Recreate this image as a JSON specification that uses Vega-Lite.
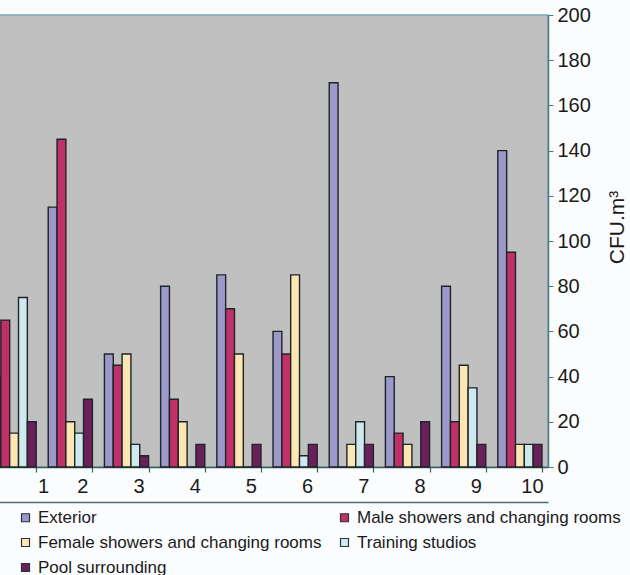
{
  "$schema": "https://vega.github.io/schema/vega-lite/v6.json",
  "width": 562,
  "height": 452,
  "autosize": {"type": "none"},
  "padding": {"left": -14, "top": 15, "right": 82, "bottom": 108},
  "background": "#fbfcfd",
  "config": {
    "font": "Liberation Sans",
    "view": {"fill": "#c0c0c0", "stroke": "#7fa9be", "strokeWidth": 1.5}
  },
  "data": {
    "values": [
      {"site": 1, "location": "Exterior", "value": 40},
      {"site": 1, "location": "Male showers and changing rooms", "value": 65},
      {"site": 1, "location": "Female showers and changing rooms", "value": 15},
      {"site": 1, "location": "Training studios", "value": 75},
      {"site": 1, "location": "Pool surrounding", "value": 20},
      {"site": 2, "location": "Exterior", "value": 115},
      {"site": 2, "location": "Male showers and changing rooms", "value": 145},
      {"site": 2, "location": "Female showers and changing rooms", "value": 20},
      {"site": 2, "location": "Training studios", "value": 15},
      {"site": 2, "location": "Pool surrounding", "value": 30},
      {"site": 3, "location": "Exterior", "value": 50},
      {"site": 3, "location": "Male showers and changing rooms", "value": 45},
      {"site": 3, "location": "Female showers and changing rooms", "value": 50},
      {"site": 3, "location": "Training studios", "value": 10},
      {"site": 3, "location": "Pool surrounding", "value": 5},
      {"site": 4, "location": "Exterior", "value": 80},
      {"site": 4, "location": "Male showers and changing rooms", "value": 30},
      {"site": 4, "location": "Female showers and changing rooms", "value": 20},
      {"site": 4, "location": "Training studios", "value": 0},
      {"site": 4, "location": "Pool surrounding", "value": 10},
      {"site": 5, "location": "Exterior", "value": 85},
      {"site": 5, "location": "Male showers and changing rooms", "value": 70},
      {"site": 5, "location": "Female showers and changing rooms", "value": 50},
      {"site": 5, "location": "Training studios", "value": 0},
      {"site": 5, "location": "Pool surrounding", "value": 10},
      {"site": 6, "location": "Exterior", "value": 60},
      {"site": 6, "location": "Male showers and changing rooms", "value": 50},
      {"site": 6, "location": "Female showers and changing rooms", "value": 85},
      {"site": 6, "location": "Training studios", "value": 5},
      {"site": 6, "location": "Pool surrounding", "value": 10},
      {"site": 7, "location": "Exterior", "value": 170},
      {"site": 7, "location": "Male showers and changing rooms", "value": 0},
      {"site": 7, "location": "Female showers and changing rooms", "value": 10},
      {"site": 7, "location": "Training studios", "value": 20},
      {"site": 7, "location": "Pool surrounding", "value": 10},
      {"site": 8, "location": "Exterior", "value": 40},
      {"site": 8, "location": "Male showers and changing rooms", "value": 15},
      {"site": 8, "location": "Female showers and changing rooms", "value": 10},
      {"site": 8, "location": "Training studios", "value": 0},
      {"site": 8, "location": "Pool surrounding", "value": 20},
      {"site": 9, "location": "Exterior", "value": 80},
      {"site": 9, "location": "Male showers and changing rooms", "value": 20},
      {"site": 9, "location": "Female showers and changing rooms", "value": 45},
      {"site": 9, "location": "Training studios", "value": 35},
      {"site": 9, "location": "Pool surrounding", "value": 10},
      {"site": 10, "location": "Exterior", "value": 140},
      {"site": 10, "location": "Male showers and changing rooms", "value": 95},
      {"site": 10, "location": "Female showers and changing rooms", "value": 10},
      {"site": 10, "location": "Training studios", "value": 10},
      {"site": 10, "location": "Pool surrounding", "value": 10}
    ]
  },
  "layer": [
    {
      "mark": {"type": "bar", "stroke": "#1b2626", "strokeWidth": 1.4},
      "encoding": {
        "x": {
          "field": "site",
          "type": "ordinal",
          "scale": {"paddingInner": 0.214, "paddingOuter": 0.107},
          "axis": {
            "orient": "bottom",
            "title": null,
            "labelAngle": 0,
            "tickBand": "extent",
            "tickSize": 5,
            "tickColor": "#3d5a5e",
            "tickWidth": 1.2,
            "domainColor": "#3d5a5e",
            "domainWidth": 1.5,
            "labelFontSize": 20,
            "labelColor": "#1a1a1a",
            "labelPadding": 4,
            "labelOffset": {"condition": {"test": "datum.value == 1", "value": 29}, "value": 12}
          }
        },
        "xOffset": {
          "field": "location",
          "type": "nominal",
          "scale": {
            "domain": ["Exterior", "Male showers and changing rooms", "Female showers and changing rooms", "Training studios", "Pool surrounding"],
            "paddingInner": 0,
            "paddingOuter": 0
          }
        },
        "y": {
          "field": "value",
          "type": "quantitative",
          "scale": {"domain": [0, 200], "nice": false},
          "axis": {
            "orient": "right",
            "title": "CFU.m³",
            "titleFontSize": 21,
            "titleFontWeight": "normal",
            "titleColor": "#1a1a1a",
            "titleAngle": 270,
            "titleBaseline": "top",
            "titlePadding": 16,
            "titleY": 212,
            "values": [0, 20, 40, 60, 80, 100, 120, 140, 160, 180, 200],
            "grid": false,
            "tickSize": 5,
            "tickColor": "#4d7a80",
            "domainColor": "#4d7a80",
            "domainWidth": 1.5,
            "labelFontSize": 20,
            "labelColor": "#1a1a1a",
            "labelPadding": 4
          }
        },
        "color": {
          "field": "location",
          "type": "nominal",
          "scale": {
            "domain": ["Exterior", "Male showers and changing rooms", "Female showers and changing rooms", "Training studios", "Pool surrounding"],
            "range": ["#9d98c9", "#c2306a", "#fde6b2", "#cfe8ee", "#6d1f5c"]
          },
          "legend": {
            "orient": "none",
            "legendX": 31,
            "legendY": 494,
            "direction": "horizontal",
            "columns": 2,
            "title": null,
            "symbolType": "square",
            "symbolSize": 64,
            "symbolStrokeColor": "#2a3535",
            "symbolStrokeWidth": 1.2,
            "labelFontSize": 17,
            "labelLimit": 400,
            "labelColor": "#1a1a1a",
            "labelOffset": 4,
            "columnPadding": 14,
            "rowPadding": 7,
            "padding": 0
          }
        }
      }
    },
    {
      "mark": {"type": "point", "opacity": 0},
      "encoding": {
        "x": {
          "field": "site",
          "type": "ordinal",
          "axis": {
            "orient": "bottom",
            "offset": 35,
            "labels": false,
            "ticks": false,
            "title": null,
            "domainColor": "#4d6d72",
            "domainWidth": 1.5
          }
        },
        "y": {"field": "value", "type": "quantitative"}
      }
    }
  ],
  "resolve": {"scale": {"x": "independent"}, "axis": {"x": "independent"}}
}
